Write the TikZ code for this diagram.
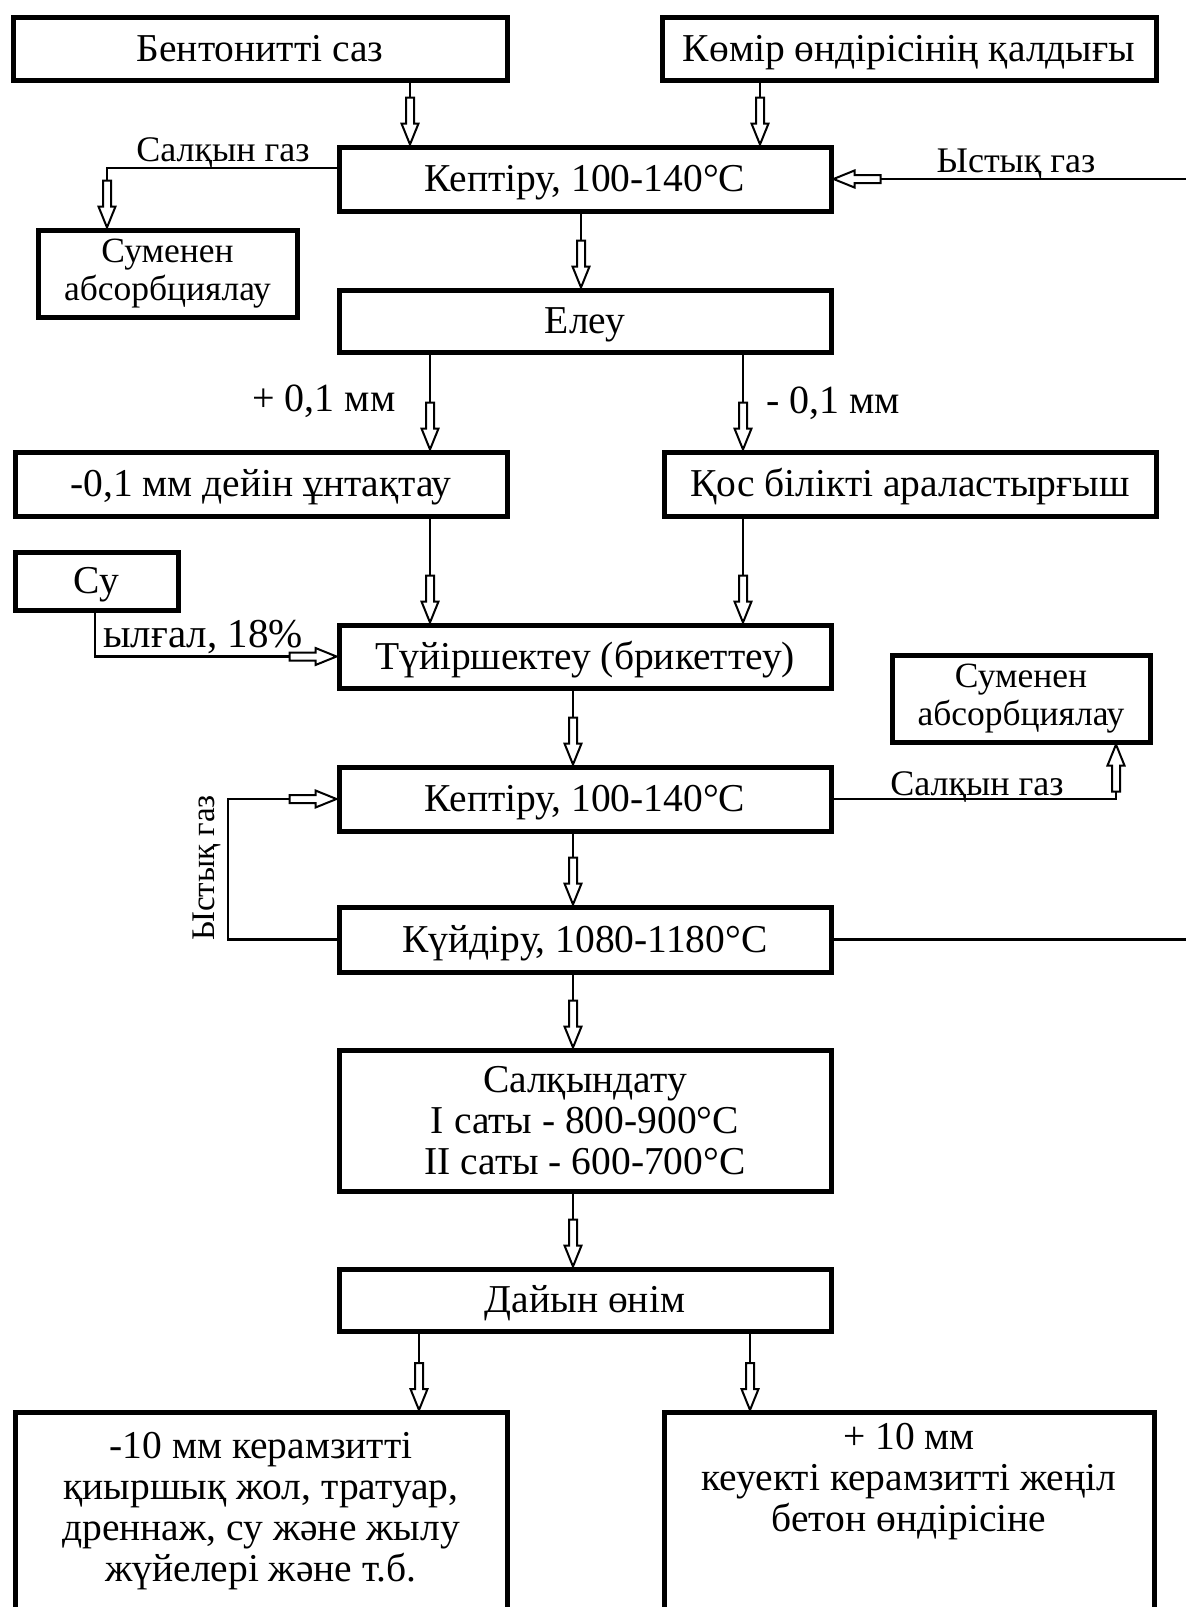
\documentclass[tikz,border=0pt]{standalone}
\usepackage{fontspec}
\setmainfont{Liberation Serif}
\usetikzlibrary{calc}
\newcommand\vflow[3]{\draw[conn] (#1.south -| #3) -- ($(#2.north -| #3)+(0,-47)$); \pic at ($(#2.north -| #3)+(0,-47)$) {hdown};}
\begin{document}
\begin{tikzpicture}[x=1pt,y=-1pt,
  box/.style={draw, line width=5pt, inner sep=0pt, align=center, font=\fontsize{39.5}{41}\selectfont},
  one/.style={box, text height=34pt, text depth=9pt},
  sbox/.style={box, font=\fontsize{35.5}{37.5}\selectfont},
  conn/.style={line width=2.5pt},
  lab/.style={inner sep=0pt, font=\fontsize{36}{38}\selectfont},
  mlab/.style={inner sep=0pt, font=\fontsize{40}{42}\selectfont},
  txt/.style={inner sep=0pt, align=center, font=\fontsize{39.5}{41}\selectfont},
  pics/hdown/.style={code={\draw[line width=2pt, fill=white, line join=miter]
     (-4,0) -- (-4,26) -- (-8.5,26) -- (0,47) -- (8.5,26) -- (4,26) -- (4,0) -- cycle;}}]
\useasboundingbox (0,0) rectangle (1186,1607);
\fill[white] (0,0) rectangle (1186,1607);
\clip (0,0) rectangle (1186,1607);

% boxes
\node[one, minimum width=494pt, minimum height=63pt] (bent) at (260,48.5) {Бентонитті саз};
\node[one, minimum width=494pt, minimum height=63pt] (komir) at (909,48.5) {Көмір өндірісінің қалдығы};
\node[one, minimum width=492pt, minimum height=64pt] (kep1) at (585,179) {Кептіру, 100-140°C};
\node[sbox, minimum width=259pt, minimum height=87pt] (sum1) at (167.5,273.5) {Суменен\\абсорбциялау};
\node[one, minimum width=492pt, minimum height=62pt] (eleu) at (585,321) {Елеу};
\node[one, minimum width=492pt, minimum height=64pt] (unt) at (261,484) {-0,1 мм дейін ұнтақтау};
\node[one, minimum width=492pt, minimum height=64pt] (qos) at (910,484) {Қос білікті араластырғыш};
\node[one, minimum width=163pt, minimum height=58pt] (su) at (96.5,581) {Су};
\node[one, minimum width=492pt, minimum height=63pt] (tuyir) at (585,656.5) {Түйіршектеу (брикеттеу)};
\node[sbox, minimum width=258pt, minimum height=87pt] (sum2) at (1021,698.5) {Суменен\\абсорбциялау};
\node[one, minimum width=492pt, minimum height=64pt] (kep2) at (585,799) {Кептіру, 100-140°C};
\node[one, minimum width=492pt, minimum height=65pt] (kuy) at (585,939.5) {Күйдіру, 1080-1180°C};
\node[box, minimum width=492pt, minimum height=141pt] (salk) at (585,1120.5) {Салқындату\\I саты - 800-900°C\\II саты - 600-700°C};
\node[one, minimum width=492pt, minimum height=62pt] (dayin) at (585,1300) {Дайын өнім};
\node[box, minimum width=492pt, minimum height=260pt, anchor=north] (outL) at (261,1410) {};
\node[box, minimum width=490pt, minimum height=260pt, anchor=north] (outR) at (909,1410) {};
\node[txt] (outLt) at (261,1511) {-10 мм керамзитті\\қиыршық жол, тратуар,\\дреннаж, су және жылу\\жүйелері және т.б.};
\node[txt] (outRt) at (909,1482) {+ 10 мм\\кеуекті керамзитті жеңіл\\бетон өндірісіне};

% reference coordinates
\coordinate (xA) at (410,0);
\coordinate (xB) at (760,0);
\coordinate (xC) at (581,0);
\coordinate (xD) at (430,0);
\coordinate (xE) at (743,0);
\coordinate (xF) at (573,0);
\coordinate (xG) at (419,0);
\coordinate (xH) at (750,0);
\coordinate (cold1) at (107,168);
\coordinate (wat) at (95,655);
\coordinate (cold2) at (1116,0);
\coordinate (hot2) at (228,0);
\coordinate (edge1) at (1186,179);
\coordinate (edge2) at (1186,939.5);

% vertical flows
\vflow{bent}{kep1}{xA}
\vflow{komir}{kep1}{xB}
\vflow{kep1}{eleu}{xC}
\vflow{eleu}{unt}{xD}
\vflow{eleu}{qos}{xE}
\vflow{unt}{tuyir}{xD}
\vflow{qos}{tuyir}{xE}
\vflow{tuyir}{kep2}{xF}
\vflow{kep2}{kuy}{xF}
\vflow{kuy}{salk}{xF}
\vflow{salk}{dayin}{xF}
\vflow{dayin}{outL}{xG}
\vflow{dayin}{outR}{xH}

% cold gas 1
\draw[conn] (kep1.west |- cold1) -| ($(sum1.north -| cold1)+(0,-47)$);
\pic at ($(sum1.north -| cold1)+(0,-47)$) {hdown};
% hot gas 1
\draw[conn] (edge1) -- ($(kep1.east)+(47,0)$);
\pic[rotate=-90] at ($(kep1.east)+(47,0)$) {hdown};
% water
\draw[conn] (su.south -| wat) |- ($(tuyir.west)+(-47,0)$);
\pic[rotate=90] at ($(tuyir.west)+(-47,0)$) {hdown};
% cold gas 2
\draw[conn] (kep2.east) -| ($(sum2.south -| cold2)+(0,47)$);
\pic[rotate=180] at ($(sum2.south -| cold2)+(0,47)$) {hdown};
% hot gas 2
\draw[conn] (kuy.west) -| (kep2.west -| hot2) -- ($(kep2.west)+(-47,0)$);
\pic[rotate=90] at ($(kep2.west)+(-47,0)$) {hdown};
% kiln to right edge
\draw[conn] (kuy.east) -- (edge2);

% labels
\node[lab] (lcold1) at (223,153) {Салқын газ};
\node[lab] (lhot1) at (1016,164) {Ыстық газ};
\node[mlab] (lplus) at (324,401) {+ 0,1 мм};
\node[mlab] (lminus) at (833,403) {- 0,1 мм};
\node[mlab, font=\fontsize{41}{43}\selectfont] (lwat) at (203,637) {ылғал, 18\%};
\node[lab] (lcold2) at (977,787) {Салқын газ};
\node[lab, rotate=90, font=\fontsize{33}{35}\selectfont] (lhot2) at (207,868) {Ыстық газ};
\end{tikzpicture}
\end{document}
